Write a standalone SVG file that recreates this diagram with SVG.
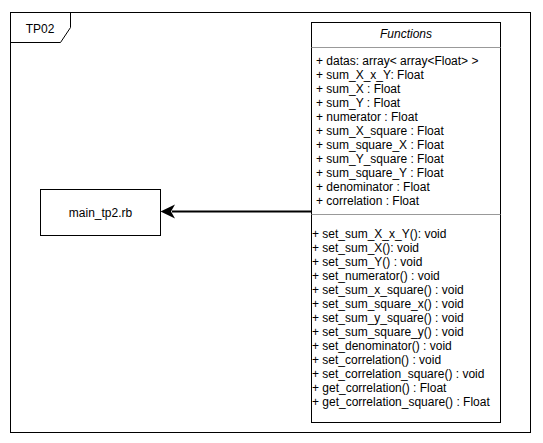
<svg xmlns="http://www.w3.org/2000/svg" width="543" height="443" viewBox="0 0 543 443">
<style>
text{font-family:"Liberation Sans",Arial,sans-serif;font-size:12px;fill:#000}
.box{fill:#fff;stroke:#000;stroke-width:1}
.sep{stroke:#999;stroke-width:1}
</style>
<rect width="543" height="443" fill="#fff"/>
<g id="frame">
<rect x="10.5" y="12.5" width="520" height="420" fill="none" stroke="#000"/>
<path d="M10.5,42.5 H60.5 L70.5,27.5 V12.5" fill="none" stroke="#000"/>
<text x="40" y="33" text-anchor="middle" font-size="11">TP02</text>
</g>
<g id="connectors">
<line x1="311" y1="211.5" x2="172" y2="211.5" stroke="#000" stroke-width="2"/>
<path d="M160.5,211.5 L175,204.5 L171,211.5 L175,218.5 Z" fill="#000"/>
</g>
<g id="main">
<rect class="box" x="40.5" y="189.5" width="120" height="46"/>
<text x="100.5" y="217" text-anchor="middle">main_tp2.rb</text>
</g>
<g id="functions">
<rect class="box" x="311.5" y="22.5" width="189" height="400"/>
<line class="sep" x1="311.5" y1="47.5" x2="500.5" y2="47.5"/>
<line class="sep" x1="311.5" y1="214.5" x2="500.5" y2="214.5"/>
<text x="406" y="38" text-anchor="middle" font-style="italic">Functions</text>
<text x="316" y="65">+ datas: array&lt; array&lt;Float&gt; &gt;</text>
<text x="316" y="79">+ sum_X_x_Y: Float</text>
<text x="316" y="93">+ sum_X : Float</text>
<text x="316" y="107">+ sum_Y : Float</text>
<text x="316" y="121">+ numerator : Float</text>
<text x="316" y="135">+ sum_X_square : Float</text>
<text x="316" y="149">+ sum_square_X : Float</text>
<text x="316" y="163">+ sum_Y_square : Float</text>
<text x="316" y="177">+ sum_square_Y : Float</text>
<text x="316" y="191">+ denominator : Float</text>
<text x="316" y="205">+ correlation : Float</text>
<text x="312" y="238">+ set_sum_X_x_Y(): void</text>
<text x="312" y="252">+ set_sum_X(): void</text>
<text x="312" y="266">+ set_sum_Y() : void</text>
<text x="312" y="280">+ set_numerator() : void</text>
<text x="312" y="294">+ set_sum_x_square() : void</text>
<text x="312" y="308">+ set_sum_square_x() : void</text>
<text x="312" y="322">+ set_sum_y_square() : void</text>
<text x="312" y="336">+ set_sum_square_y() : void</text>
<text x="312" y="350">+ set_denominator() : void</text>
<text x="312" y="364">+ set_correlation() : void</text>
<text x="312" y="378">+ set_correlation_square() : void</text>
<text x="312" y="392">+ get_correlation() : Float</text>
<text x="312" y="406">+ get_correlation_square() : Float</text>
</g>
</svg>
